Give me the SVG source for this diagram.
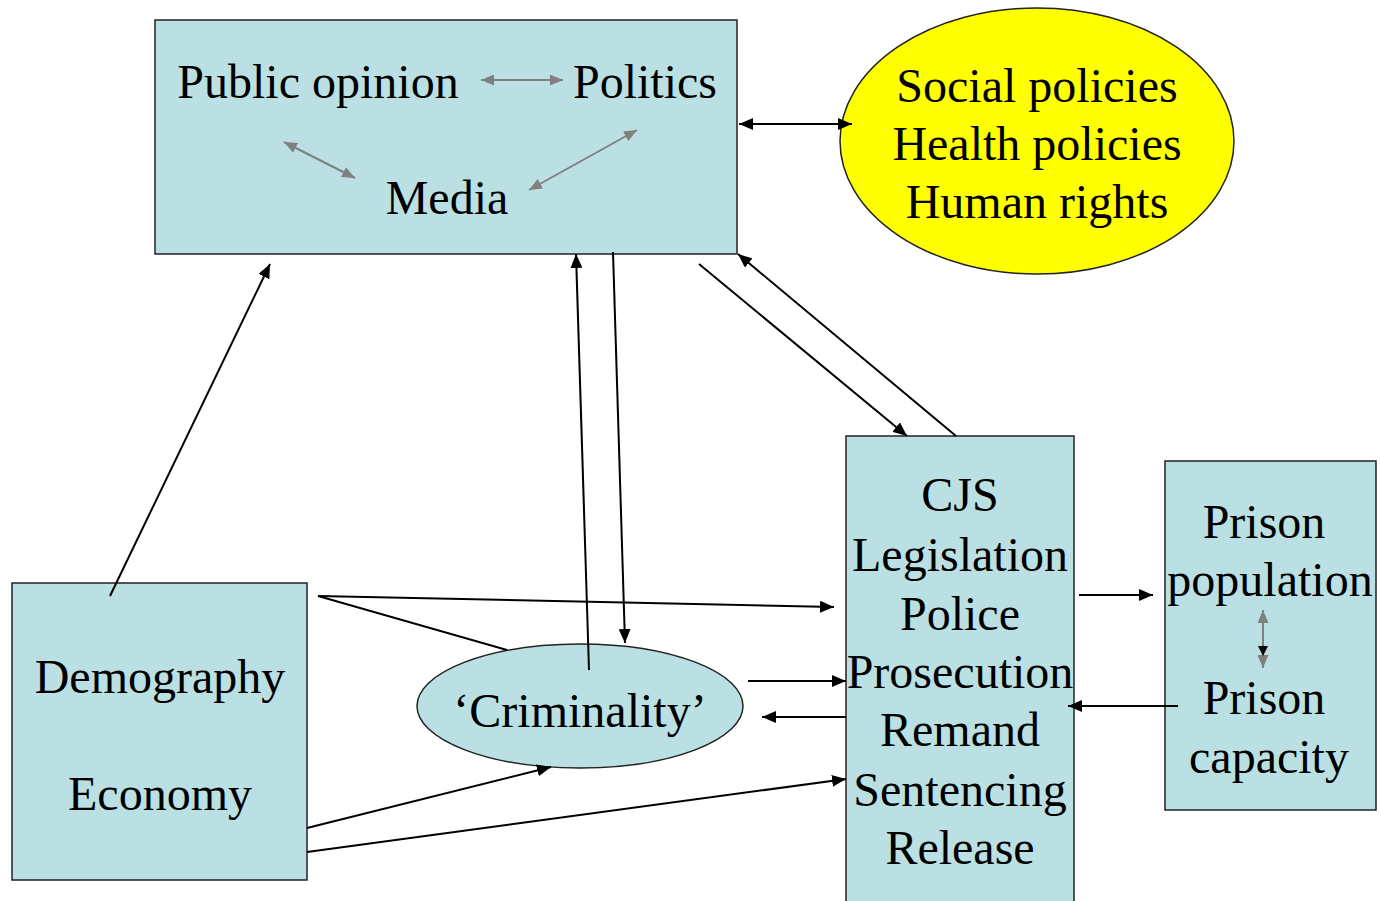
<svg xmlns="http://www.w3.org/2000/svg" width="1381" height="901" viewBox="0 0 1381 901">
<style>
.box{fill:#BAE0E3;stroke:#222;stroke-width:1.5}
.yel{fill:#FFFF00;stroke:#222;stroke-width:1.5}
text{font-family:"Liberation Serif","Times New Roman",serif;font-size:48px;fill:#000;text-anchor:middle}
.c{stroke:#000;stroke-width:2;fill:none}
.g{stroke:#808080;stroke-width:2;fill:none}
</style>
<defs>
<marker id="ah" markerUnits="userSpaceOnUse" markerWidth="16" markerHeight="12" refX="14" refY="6" orient="auto-start-reverse" viewBox="0 0 16 12"><path d="M0,0 L14,6 L0,12 Z" fill="#000"/></marker>
<marker id="gh" markerUnits="userSpaceOnUse" markerWidth="14" markerHeight="11" refX="13" refY="5.5" orient="auto-start-reverse" viewBox="0 0 14 11"><path d="M0,0 L13,5.5 L0,11 Z" fill="#808080"/></marker>
</defs>
<g id="top-box">
<rect class="box" x="155" y="20" width="582" height="234"/>
<text x="318" y="98">Public opinion</text>
<text x="645" y="98">Politics</text>
<text x="447" y="214">Media</text>
<line class="g" x1="481" y1="80" x2="563" y2="80" marker-start="url(#gh)" marker-end="url(#gh)"/>
<line class="g" x1="284" y1="142" x2="355" y2="178" marker-start="url(#gh)" marker-end="url(#gh)"/>
<line class="g" x1="637" y1="130" x2="529" y2="190" marker-start="url(#gh)" marker-end="url(#gh)"/>
</g>
<g id="policies">
<ellipse class="yel" cx="1037" cy="141" rx="197" ry="133"/>
<text x="1037" y="102">Social policies</text>
<text x="1037" y="160">Health policies</text>
<text x="1037" y="218">Human rights</text>
</g>
<g id="demography">
<rect class="box" x="12" y="583" width="295" height="297"/>
<text x="160" y="693">Demography</text>
<text x="160" y="810">Economy</text>
</g>
<g id="criminality">
<ellipse class="box" cx="580" cy="706" rx="163" ry="62"/>
<text x="580" y="727">‘Criminality’</text>
</g>
<g id="cjs">
<rect class="box" x="846" y="436" width="228" height="470"/>
<text x="960" y="511">CJS</text>
<text x="960" y="571">Legislation</text>
<text x="960" y="630">Police</text>
<text x="960" y="688">Prosecution</text>
<text x="960" y="746">Remand</text>
<text x="960" y="806">Sentencing</text>
<text x="960" y="864">Release</text>
</g>
<g id="prison">
<rect class="box" x="1165" y="461" width="211" height="349"/>
<text x="1264" y="538">Prison</text>
<text x="1270" y="596">population</text>
<text x="1264" y="714">Prison</text>
<text x="1269" y="773">capacity</text>
<line class="g" x1="1263" y1="610" x2="1263" y2="668" marker-start="url(#gh)" marker-end="url(#gh)"/>
<path d="M1258,646 L1268,646 L1263,656 Z" fill="#000"/>
</g>
<g id="connectors">
<line class="c" x1="739" y1="124" x2="852" y2="124" marker-start="url(#ah)" marker-end="url(#ah)"/>
<line class="c" x1="110" y1="596" x2="270" y2="264" marker-end="url(#ah)"/>
<line class="c" x1="589" y1="670" x2="576" y2="254" marker-end="url(#ah)"/>
<line class="c" x1="613" y1="252" x2="625" y2="643" marker-end="url(#ah)"/>
<line class="c" x1="699" y1="264" x2="907" y2="436" marker-end="url(#ah)"/>
<line class="c" x1="956" y1="436" x2="738" y2="254" marker-end="url(#ah)"/>
<line class="c" x1="318" y1="596" x2="834" y2="607" marker-end="url(#ah)"/>
<line class="c" x1="318" y1="596" x2="507" y2="650"/>
<line class="c" x1="748" y1="681" x2="846" y2="681" marker-end="url(#ah)"/>
<line class="c" x1="846" y1="717" x2="762" y2="717" marker-end="url(#ah)"/>
<line class="c" x1="307" y1="828" x2="551" y2="767" marker-end="url(#ah)"/>
<line class="c" x1="307" y1="852" x2="846" y2="779" marker-end="url(#ah)"/>
<line class="c" x1="1079" y1="595" x2="1153" y2="595" marker-end="url(#ah)"/>
<line class="c" x1="1178" y1="706" x2="1068" y2="706" marker-end="url(#ah)"/>
</g>
</svg>
